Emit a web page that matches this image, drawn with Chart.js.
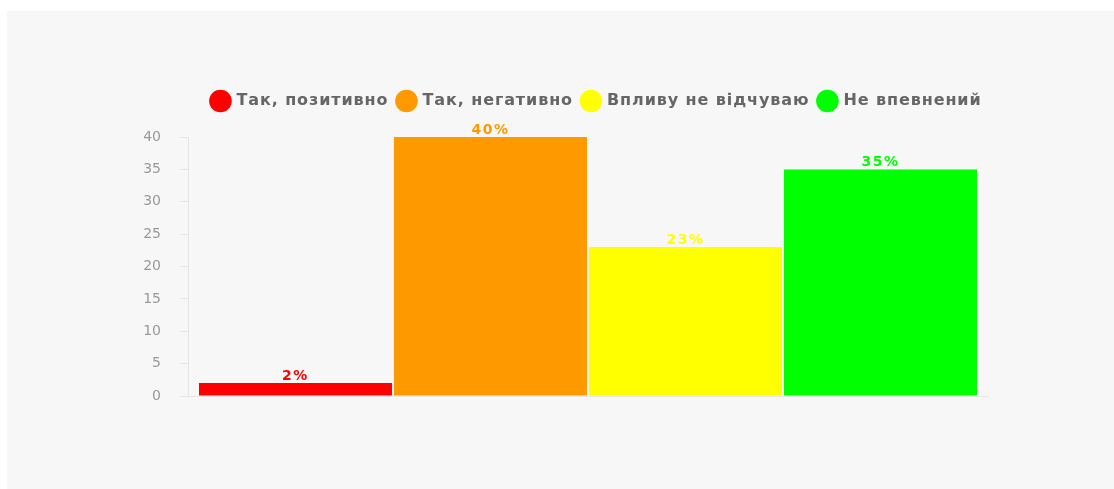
<!DOCTYPE html>
<html lang="uk">
<head>
<meta charset="utf-8">
<title>Вплив</title>
<script src="https://cdn.jsdelivr.net/npm/chart.js@4/dist/chart.umd.min.js"></script>
<style>
    html, body { margin: 0; padding: 0; background: #ffffff; }
    #panel {
        position: absolute;
        left: 7px;
        top: 11px;
        width: 1107px;
        height: 478px;
        background: #f7f7f7;
    }
</style>
</head>
<body>
<div id="panel">
    <canvas id="impact-chart" width="1107" height="478"></canvas>
</div>
<script>
// Survey answers, one dataset per answer so each gets a legend entry
const answers = ['Так, позитивно', 'Так, негативно', 'Впливу не відчуваю', 'Не впевнений'];
const shares = [2, 40, 23, 35];
const answerColors = ['#ff0000', '#ff9900', '#ffff00', '#00ff00'];
const yTicks = [0, 5, 10, 15, 20, 25, 30, 35, 40];

// Percent label above every bar, in the bar's own colour
const barValueLabels = {
    id: 'barValueLabels',
    afterDatasetsDraw(chart) {
        const ctx = chart.ctx;
        ctx.save();
        ctx.font = 'bold 14px "DejaVu Sans", sans-serif';
        ctx.letterSpacing = '1.5px';
        ctx.textAlign = 'center';
        ctx.textBaseline = 'bottom';
        chart.data.datasets.forEach((ds, i) => {
            const meta = chart.getDatasetMeta(i);
            meta.data.forEach((bar, j) => {
                ctx.fillStyle = ds.backgroundColor;
                ctx.fillText(ds.data[j] + '%', bar.x, bar.y);
            });
        });
        ctx.restore();
    }
};

// Wider legend lettering, extra room below it, and a small shift to the right
const legendTweaks = {
    id: 'legendTweaks',
    beforeInit(chart) {
        const legend = chart.legend;
        const fit = legend.fit;
        const draw = legend.draw;
        legend.fit = function() {
            const ctx = this.ctx;
            const prev = ctx.letterSpacing;
            ctx.letterSpacing = '0.9px';
            fit.call(this);
            ctx.letterSpacing = prev;
            this.height += 18;
        };
        legend.draw = function() {
            const ctx = this.ctx;
            const prev = ctx.letterSpacing;
            ctx.letterSpacing = '0.9px';
            draw.call(this);
            ctx.letterSpacing = prev;
        };
    },
    afterLayout(chart) {
        const legend = chart.legend;
        const shift = 590 - (legend.left + legend.right) / 2;
        legend.left += shift;
        legend.right += shift;
    }
};

const chart = new Chart(document.getElementById('impact-chart'), {
    type: 'bar',
    data: {
        labels: [''],
        datasets: answers.map((name, i) => ({
            label: name,
            data: [shares[i]],
            backgroundColor: answerColors[i],
            borderWidth: 0,
            categoryPercentage: 0.975,
            barPercentage: 0.99
        }))
    },
    options: {
        responsive: false,
        animation: false,
        layout: {
            padding: { top: 72, left: 120, right: 126, bottom: 93 }
        },
        scales: {
            x: {
                ticks: { display: false },
                grid: { drawOnChartArea: false, drawTicks: false },
                border: { color: '#e6e6e6', width: 1 }
            },
            y: {
                min: 0,
                max: 40,
                afterBuildTicks(axis) {
                    axis.ticks = yTicks.map(v => ({ value: v }));
                },
                afterFit(axis) {
                    axis.width = 61;
                },
                ticks: {
                    color: '#999999',
                    padding: 19,
                    font: { family: '"DejaVu Sans", sans-serif', size: 14 }
                },
                grid: { drawOnChartArea: false, tickLength: 8, color: '#e6e6e6' },
                border: { color: '#e6e6e6', width: 1 }
            }
        },
        plugins: {
            legend: {
                position: 'top',
                labels: {
                    usePointStyle: true,
                    pointStyle: 'circle',
                    color: '#666666',
                    padding: 10,
                    font: { family: '"DejaVu Sans", sans-serif', size: 16, weight: 'bold' }
                }
            },
            tooltip: { enabled: false }
        }
    },
    plugins: [barValueLabels, legendTweaks]
});
</script>
</body>
</html>
